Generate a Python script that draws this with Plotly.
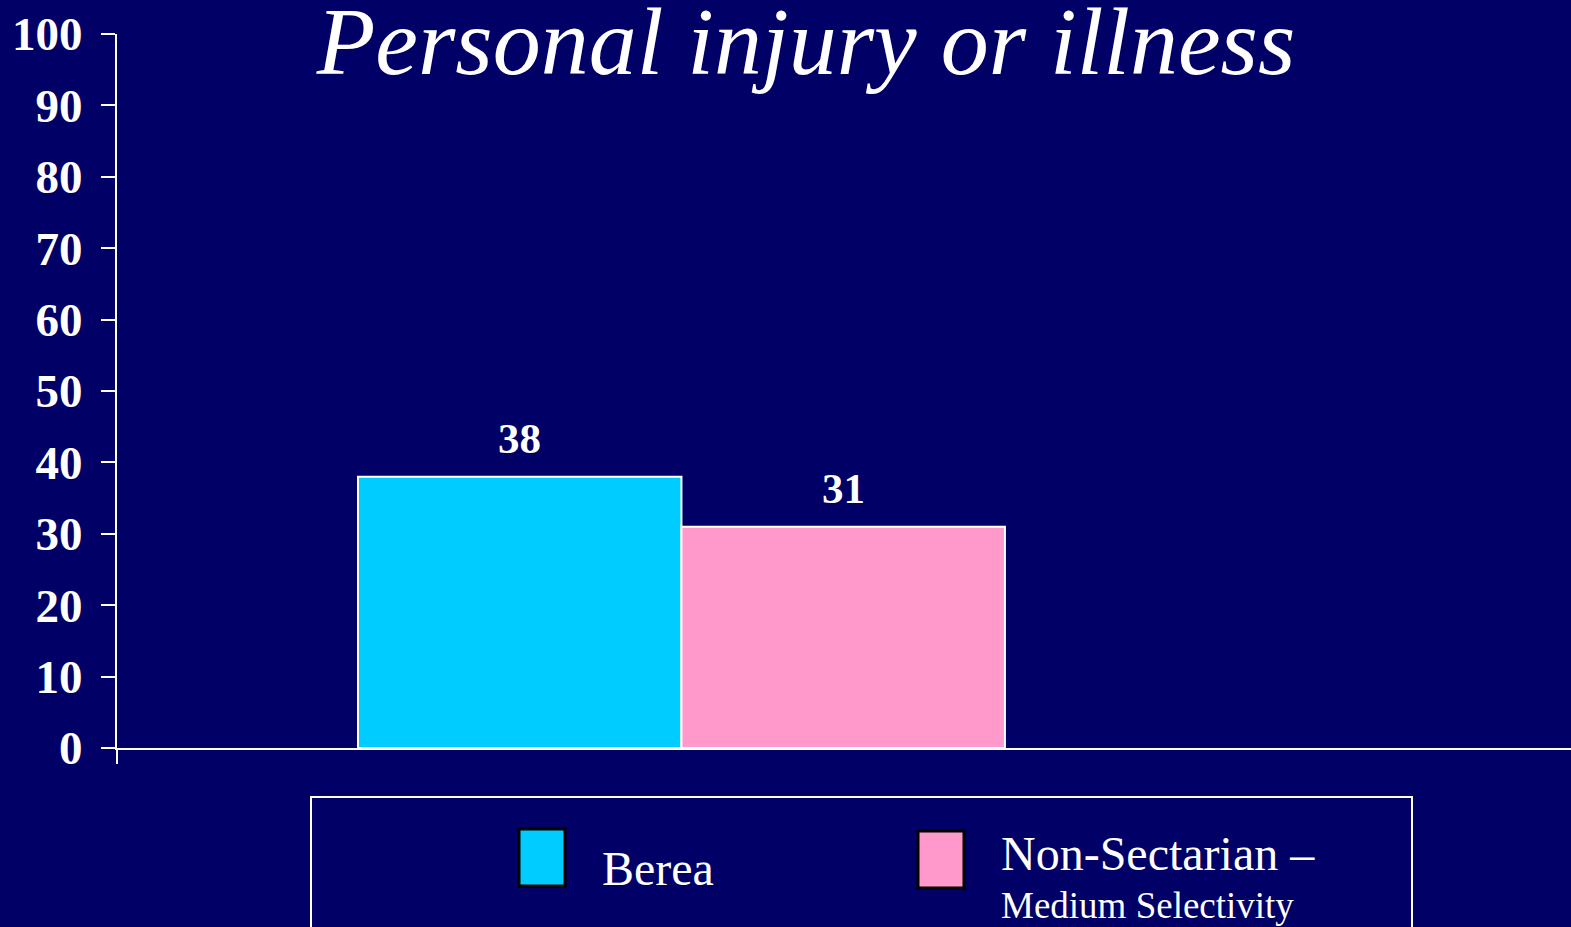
import plotly.graph_objects as go

# data
groups = ["Berea", "Non-Sectarian \u2013 Medium Selectivity"]
values = [38, 31]
colors = ["#00CCFF", "#FF99CC"]
y_ticks = [0, 10, 20, 30, 40, 50, 60, 70, 80, 90, 100]

W, H = 1571, 927
L, T, B = 117, 34, 179
PW, PH = W - L, H - T - B
BG = "#000066"
SERIF = "Liberation Serif"


def px(x):
    return (x - L) / PW


def py(y):
    return (H - B - y) / PH


fig = go.Figure()

# one bar per group, side by side
for i, (name, v) in enumerate(zip(groups, values)):
    fig.add_trace(go.Bar(x=[i], y=[v], width=1, name=name,
                         marker=dict(color=colors[i], line=dict(color="white", width=2)),
                         showlegend=False, hoverinfo="skip"))
    fig.add_annotation(x=i, y=v, text=str(v), showarrow=False, yanchor="middle", yshift=38,
                       font=dict(family=SERIF, size=43, color="white", weight="bold"))

# legend drawn by hand (big boxes like the slide)
fig.add_shape(type="rect", xref="paper", yref="paper", x0=px(311), x1=px(1412), y0=py(960), y1=py(797),
              line=dict(color="white", width=2), fillcolor="rgba(0,0,0,0)")
fig.add_shape(type="rect", xref="paper", yref="paper", x0=px(519), x1=px(565), y0=py(886), y1=py(829),
              line=dict(color="black", width=3), fillcolor=colors[0])
fig.add_shape(type="rect", xref="paper", yref="paper", x0=px(918), x1=px(964), y0=py(888), y1=py(831),
              line=dict(color="black", width=3), fillcolor=colors[1])
fig.add_annotation(xref="paper", yref="paper", x=px(600), y=py(868), text="Berea", showarrow=False,
                   xanchor="left", yanchor="middle", font=dict(family=SERIF, size=48, color="white"))
fig.add_annotation(xref="paper", yref="paper", x=px(999), y=py(854), text="Non-Sectarian \u2013",
                   showarrow=False, xanchor="left", yanchor="middle",
                   font=dict(family=SERIF, size=48, color="white"))
fig.add_annotation(xref="paper", yref="paper", x=px(999), y=py(905), text="Medium Selectivity",
                   showarrow=False, xanchor="left", yanchor="middle",
                   font=dict(family=SERIF, size=37, color="white"))

fig.update_layout(
    width=W, height=H,
    margin=dict(l=L, r=0, t=T, b=B),
    paper_bgcolor=BG, plot_bgcolor=BG,
    title=dict(text="<i>Personal injury or illness</i>", xref="paper", x=px(806), xanchor="center",
               yref="container", y=1 - 40 / H, yanchor="middle",
               font=dict(family=SERIF, size=96, color="white")),
    xaxis=dict(range=[-1.245, 3.25], showgrid=False, zeroline=False,
               showline=True, linecolor="white", linewidth=2,
               tickvals=[-1.245], ticks="outside", ticklen=14, tickwidth=2, tickcolor="white",
               showticklabels=False),
    yaxis=dict(range=[0, 100], tickvals=y_ticks, showgrid=False, zeroline=False,
               showline=True, linecolor="white", linewidth=2,
               ticks="outside", ticklen=14, tickwidth=2, tickcolor="white",
               ticklabelstandoff=9,
               tickfont=dict(family=SERIF, size=47, color="white", weight="bold")),
)

fig.write_html("out.html", config={"displayModeBar": False},
               post_script="document.body.style.margin='0';document.body.style.overflow='hidden';")
